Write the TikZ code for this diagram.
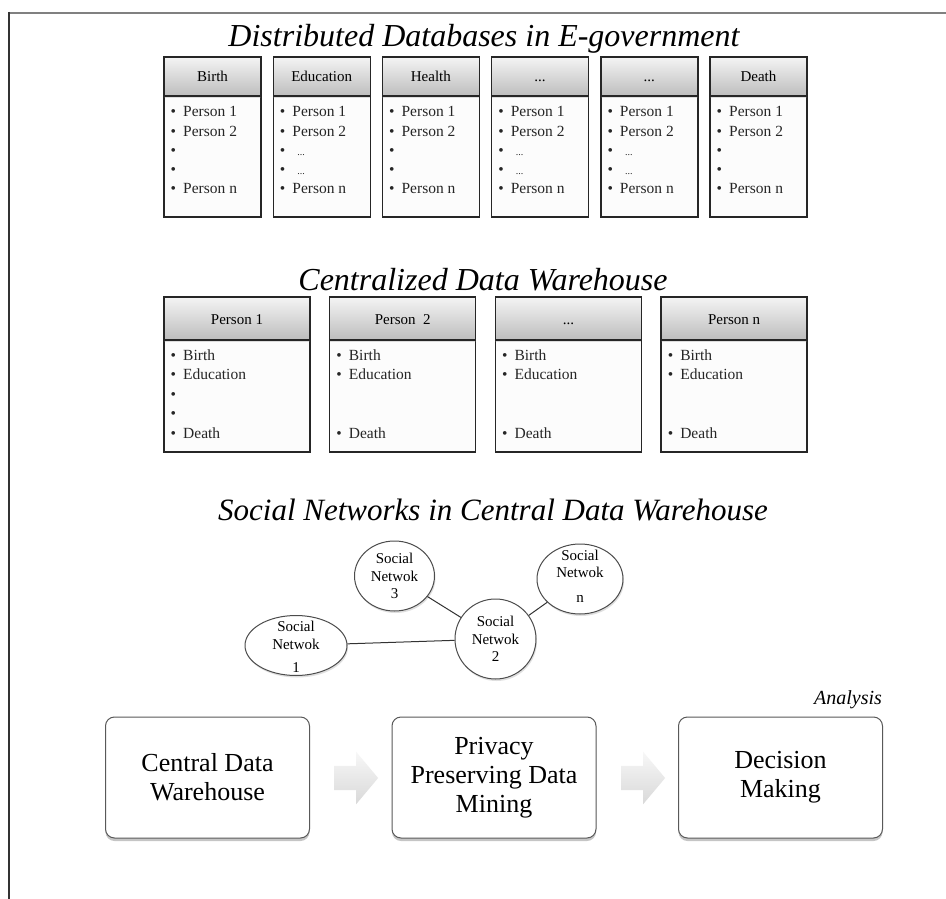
\documentclass[tikz,border=0pt]{standalone}
\usepackage{fontspec}
\setmainfont{Liberation Serif}
\usetikzlibrary{shapes.geometric,shapes.arrows,shadows}
\definecolor{bordc}{HTML}{262626}
\definecolor{hdtop}{HTML}{F4F4F4}
\definecolor{hdbot}{HTML}{BDBDBD}
\definecolor{bodyc}{HTML}{FCFCFC}
\newcommand\ddd{...}
\newcommand\bl{\makebox[12.5pt][l]{•}}
\newcommand\sdots{\hspace{5pt}{\fontsize{10}{10}\selectfont\ddd}}
\newcommand\midA{\bl}
\newcommand\midB{\bl\sdots}
\tikzset{
  ttl/.style={font=\fontsize{32}{32}\selectfont\itshape, anchor=base, inner sep=0},
  hdr/.style={draw=bordc, line width=1.4pt, top color=hdtop, bottom color=hdbot, font=\fontsize{15}{15}\selectfont, inner sep=0,
    text height=12pt, text depth=1pt,
    drop shadow={shadow xshift=0pt, shadow yshift=-2pt, opacity=0.25}},
  bodybox/.style={draw=bordc, line width=1.4pt, fill=bodyc, inner sep=0},
  txt/.style={font=\fontsize{15.5}{15.5}\selectfont, anchor=base west, inner sep=0, text=black!85},
  snet/.style={ellipse, draw=black!70, line width=1pt, fill=white, inner sep=0,
    drop shadow={shadow xshift=1pt, shadow yshift=-2pt, opacity=0.25}},
  sntext/.style={font=\fontsize{15}{17.5}\selectfont, align=center, inner sep=0},
  rbox/.style={draw=black!65, line width=1pt, fill=white, rounded corners=9pt, minimum width=204pt, minimum height=121pt,
    font=\fontsize{26}{29}\selectfont, align=center, inner sep=0,
    drop shadow={shadow xshift=0pt, shadow yshift=-3pt, opacity=0.45}},
  barrow/.style={single arrow, draw=none, top color=gray!6, bottom color=gray!30, minimum height=44pt,
    single arrow head extend=14pt, inner sep=12pt, single arrow tip angle=100},
  link/.style={draw=black!80, line width=1pt}
}
\begin{document}
\begin{tikzpicture}[x=1pt,y=-1pt]
\useasboundingbox (0,0) rectangle (946,899);
\fill[white] (0,0) rectangle (946,899);
\draw[gray, line width=2pt] (8,13) -- (946,13);
\draw[black!80, line width=2pt] (9,12) -- (9,899);

% ---------- Distributed databases ----------
\node[ttl] (t1) at (484,47) {Distributed Databases in E-government};
\foreach \i/\t/\m in {0/Birth/\midA,1/Education/\midB,2/Health/\midA,3/\ddd/\midB,4/\ddd/\midB,5/Death/\midA} {
  \pgfmathsetmacro\L{164+109.2*\i}
  \node[bodybox, minimum width=97pt, minimum height=121pt] (db\i) at (\L+48.5,156.5) {};
  \node[hdr, minimum width=97pt, minimum height=39pt] (dh\i) at (\L+48.5,76.5) {\t};
  \foreach \j/\s in {1/Person 1,2/Person 2,5/Person n}
    \node[txt] (dl\i\j) at (\L+6.5,117+19*\j-19) {\bl\s};
  \foreach \j in {3,4}
    \node[txt] (dl\i\j) at (\L+6.5,117+19*\j-19) {\m};
}

% ---------- Centralized data warehouse ----------
\node[ttl] (t2) at (483,290) {Centralized Data Warehouse};
\foreach \i/\t in {0/Person 1,1/Person\ \ 2,2/\ddd,3/Person n} {
  \pgfmathsetmacro\L{164+165.7*\i}
  \node[bodybox, minimum width=146pt, minimum height=112pt] (cb\i) at (\L+73,396) {};
  \node[hdr, minimum width=146pt, minimum height=43pt] (ch\i) at (\L+73,318.5) {\t};
  \foreach \j/\s/\yy in {1/Birth/360,2/Education/379.5,5/Death/438}
    \node[txt] (cl\i\j) at (\L+6.5,\yy) {\bl\s};
}
\node[txt] (cl03) at (170.5,399) {\bl};
\node[txt] (cl04) at (170.5,418.5) {\bl};

% ---------- Social networks ----------
\node[ttl, font=\fontsize{31}{31}\selectfont\itshape] (t3) at (493,520) {Social Networks in Central Data Warehouse};
\node[snet, minimum width=80pt, minimum height=70pt] (sn3) at (394.5,576) {};
\node[snet, minimum width=86pt, minimum height=70pt] (snn) at (580,579) {};
\node[snet, minimum width=81pt, minimum height=80pt] (sn2) at (495.5,639) {};
\node[snet, minimum width=102pt, minimum height=60pt] (sn1) at (296,645.5) {};
\draw[link] (sn1) -- (sn2);
\draw[link] (sn3) -- (sn2);
\draw[link] (sn2) -- (snn);
\node[sntext] (st3) at (sn3) {Social\\Netwok\\3};
\node[sntext] (stn) at (580,576) {Social\\Netwok\\[7pt]n};
\node[sntext] (st2) at (sn2) {Social\\Netwok\\2};
\node[sntext] (st1) at (296,647) {Social\\Netwok\\[6pt]1};

% ---------- Pipeline ----------
\node[font=\fontsize{20}{20}\selectfont\itshape, anchor=base, inner sep=0] (an) at (848,704) {Analysis};
\node[rbox] (cdw) at (207.5,777.5) {Central Data\\Warehouse};
\node[rbox] (ppdm) at (494,777.5) {Privacy\\Preserving Data\\Mining};
\node[rbox] (dm) at (780.5,777.5) {Decision\\Making};
\node[barrow] (a1) at (351,778) {};
\node[barrow] (a2) at (638,778) {};
\end{tikzpicture}
\end{document}
